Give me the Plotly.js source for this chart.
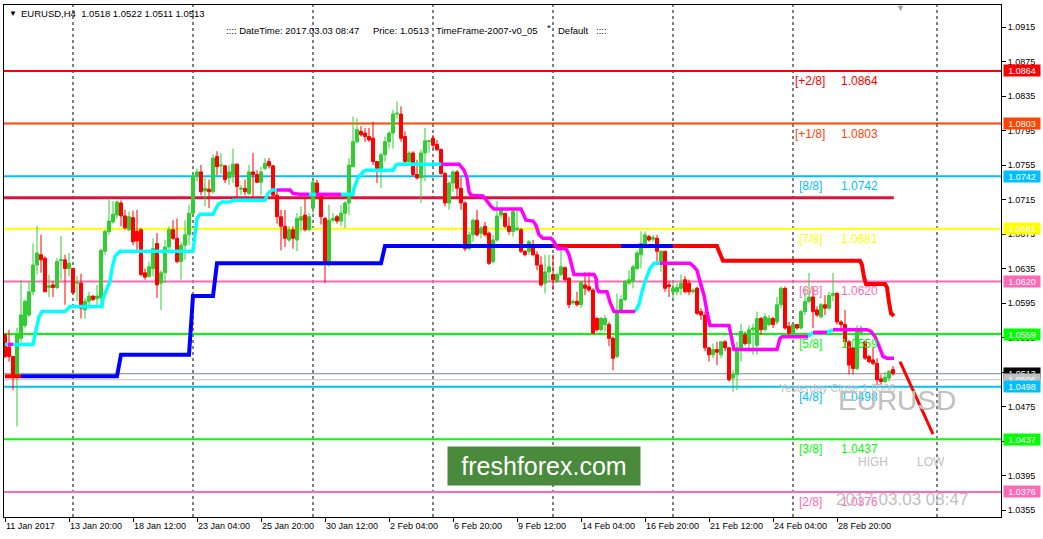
<!DOCTYPE html>
<html><head><meta charset="utf-8">
<script src="https://cdn.plot.ly/plotly-3.0.1.min.js"></script>
<style>html,body{margin:0;padding:0;background:#fff;}#chart{width:1043px;height:539px;}</style>
</head><body><div id="chart"></div>
<script>
// ---------- DATA ----------
const symbolName = 'EURUSD';
const timeframeName = 'H4';
const barOpen = [
1.0558,1.0544,1.0533,1.0509,1.0554,1.0569,1.0581,1.0608,1.0639,1.0651,
1.0647,1.0613,1.0616,1.0613,1.0644,1.0645,1.0635,1.0635,1.0618,1.0618,
1.0587,1.0597,1.0603,1.0600,1.0601,1.0655,1.0678,1.0689,1.0697,1.0711,
1.0696,1.0680,1.0694,1.0678,1.0680,1.0630,1.0626,1.0635,1.0664,1.0618,
1.0630,1.0660,1.0680,1.0670,1.0643,1.0662,1.0674,1.0699,1.0742,1.0747,
1.0725,1.0727,1.0724,1.0765,1.0754,1.0754,1.0740,1.0744,1.0756,1.0727,
1.0728,1.0722,1.0747,1.0744,1.0735,1.0751,1.0759,1.0754,1.0720,1.0695,
1.0684,1.0668,1.0680,1.0668,1.0691,1.0697,1.0680,1.0705,1.0734,1.0720,
1.0693,1.0643,1.0691,1.0695,1.0690,1.0699,1.0711,1.0753,1.0782,1.0794,
1.0792,1.0788,1.0786,1.0759,1.0751,1.0767,1.0782,1.0792,1.0814,1.0814,
1.0788,1.0759,1.0769,1.0744,1.0740,1.0769,1.0782,1.0786,1.0779,1.0773,
1.0745,1.0711,1.0734,1.0747,1.0728,1.0711,1.0658,1.0674,1.0691,1.0676,
1.0684,1.0676,1.0643,1.0668,1.0697,1.0699,1.0684,1.0678,1.0680,1.0680,
1.0655,1.0655,1.0660,1.0651,1.0639,1.0618,1.0631,1.0628,1.0620,1.0628,
1.0636,1.0624,1.0595,1.0597,1.0593,1.0616,1.0614,1.0610,1.0577,1.0564,
1.0570,1.0570,1.0554,1.0533,1.0587,1.0599,1.0618,1.0620,1.0635,1.0651,
1.0662,1.0672,1.0669,1.0670,1.0643,1.0655,1.0616,1.0608,1.0608,1.0612,
1.0622,1.0618,1.0608,1.0612,1.0585,1.0581,1.0543,1.0535,1.0541,1.0535,
1.0550,1.0543,1.0508,1.0512,1.0543,1.0558,1.0548,1.0564,1.0546,1.0577,
1.0564,1.0570,1.0577,1.0573,1.0593,1.0612,1.0568,1.0560,1.0570,1.0566,
1.0585,1.0597,1.0602,1.0587,1.0579,1.0593,1.0589,1.0604,1.0606,1.0573,
1.0570,1.0550,1.0543,1.0519,1.0561,1.0550,1.0533,1.0529,1.0525,1.0507,
1.0504,1.0508,1.0518];
const barHigh = [
1.0560,1.0564,1.0534,1.0566,1.0622,1.0599,1.0620,1.0664,1.0684,1.0674,
1.0649,1.0628,1.0620,1.0647,1.0673,1.0651,1.0653,1.0636,1.0626,1.0629,
1.0601,1.0608,1.0604,1.0616,1.0658,1.0680,1.0716,1.0713,1.0714,1.0714,
1.0703,1.0701,1.0702,1.0703,1.0682,1.0635,1.0643,1.0670,1.0676,1.0633,
1.0668,1.0684,1.0691,1.0693,1.0666,1.0691,1.0709,1.0747,1.0751,1.0755,
1.0740,1.0738,1.0767,1.0771,1.0769,1.0755,1.0755,1.0774,1.0757,1.0732,
1.0738,1.0755,1.0769,1.0749,1.0753,1.0763,1.0763,1.0755,1.0726,1.0703,
1.0703,1.0684,1.0684,1.0699,1.0707,1.0716,1.0699,1.0740,1.0738,1.0722,
1.0695,1.0709,1.0699,1.0697,1.0709,1.0713,1.0763,1.0811,1.0809,1.0800,
1.0798,1.0798,1.0805,1.0759,1.0769,1.0788,1.0794,1.0819,1.0829,1.0823,
1.0794,1.0771,1.0771,1.0761,1.0773,1.0798,1.0784,1.0790,1.0784,1.0774,
1.0747,1.0736,1.0749,1.0749,1.0741,1.0713,1.0678,1.0693,1.0703,1.0684,
1.0689,1.0678,1.0674,1.0713,1.0703,1.0699,1.0695,1.0703,1.0703,1.0682,
1.0656,1.0668,1.0668,1.0655,1.0649,1.0651,1.0651,1.0651,1.0630,1.0658,
1.0637,1.0624,1.0599,1.0608,1.0620,1.0631,1.0631,1.0612,1.0579,1.0579,
1.0581,1.0573,1.0556,1.0606,1.0604,1.0622,1.0633,1.0639,1.0656,1.0678,
1.0678,1.0674,1.0674,1.0674,1.0656,1.0655,1.0620,1.0620,1.0618,1.0628,
1.0626,1.0622,1.0612,1.0614,1.0589,1.0585,1.0544,1.0548,1.0550,1.0550,
1.0552,1.0544,1.0517,1.0550,1.0571,1.0562,1.0569,1.0571,1.0585,1.0579,
1.0583,1.0581,1.0579,1.0602,1.0614,1.0614,1.0573,1.0571,1.0571,1.0587,
1.0612,1.0630,1.0614,1.0591,1.0595,1.0604,1.0608,1.0630,1.0608,1.0575,
1.0587,1.0552,1.0544,1.0569,1.0569,1.0552,1.0535,1.0543,1.0531,1.0512,
1.0515,1.0517,1.0522];
const barLow = [
1.0531,1.0527,1.0494,1.0452,1.0550,1.0566,1.0579,1.0604,1.0628,1.0630,
1.0608,1.0602,1.0602,1.0611,1.0622,1.0593,1.0626,1.0606,1.0597,1.0577,
1.0577,1.0589,1.0597,1.0589,1.0593,1.0651,1.0674,1.0687,1.0693,1.0684,
1.0680,1.0678,1.0662,1.0656,1.0626,1.0622,1.0624,1.0626,1.0601,1.0587,
1.0618,1.0655,1.0668,1.0641,1.0622,1.0645,1.0662,1.0697,1.0736,1.0720,
1.0707,1.0705,1.0722,1.0743,1.0745,1.0734,1.0732,1.0734,1.0718,1.0720,
1.0720,1.0720,1.0718,1.0734,1.0720,1.0749,1.0751,1.0716,1.0687,1.0656,
1.0660,1.0666,1.0658,1.0655,1.0678,1.0678,1.0678,1.0699,1.0716,1.0686,
1.0618,1.0637,1.0689,1.0687,1.0684,1.0682,1.0697,1.0753,1.0780,1.0788,
1.0782,1.0782,1.0755,1.0734,1.0728,1.0759,1.0774,1.0774,1.0809,1.0782,
1.0757,1.0755,1.0742,1.0738,1.0711,1.0736,1.0769,1.0774,1.0771,1.0744,
1.0707,1.0703,1.0724,1.0716,1.0703,1.0655,1.0656,1.0666,1.0672,1.0670,
1.0672,1.0639,1.0641,1.0666,1.0693,1.0682,1.0674,1.0672,1.0678,1.0653,
1.0649,1.0651,1.0649,1.0633,1.0614,1.0606,1.0620,1.0610,1.0618,1.0626,
1.0620,1.0589,1.0593,1.0591,1.0589,1.0604,1.0608,1.0560,1.0562,1.0562,
1.0562,1.0545,1.0517,1.0531,1.0585,1.0597,1.0616,1.0612,1.0633,1.0635,
1.0658,1.0666,1.0666,1.0643,1.0631,1.0608,1.0602,1.0600,1.0604,1.0604,
1.0606,1.0604,1.0606,1.0581,1.0575,1.0539,1.0527,1.0531,1.0523,1.0531,
1.0539,1.0504,1.0492,1.0494,1.0527,1.0546,1.0539,1.0535,1.0535,1.0558,
1.0562,1.0568,1.0566,1.0570,1.0589,1.0564,1.0558,1.0558,1.0564,1.0564,
1.0581,1.0595,1.0566,1.0579,1.0577,1.0581,1.0587,1.0597,1.0570,1.0566,
1.0543,1.0512,1.0512,1.0517,1.0558,1.0529,1.0525,1.0523,1.0500,1.0500,
1.0502,1.0504,1.0511];
const barClose = [
1.0533,1.0533,1.0509,1.0558,1.0581,1.0597,1.0608,1.0639,1.0653,1.0645,
1.0608,1.0615,1.0613,1.0643,1.0645,1.0635,1.0641,1.0607,1.0619,1.0589,
1.0597,1.0603,1.0599,1.0603,1.0656,1.0678,1.0690,1.0698,1.0712,1.0696,
1.0682,1.0695,1.0666,1.0667,1.0628,1.0625,1.0637,1.0658,1.0616,1.0630,
1.0660,1.0680,1.0670,1.0643,1.0662,1.0674,1.0699,1.0742,1.0747,1.0724,
1.0728,1.0724,1.0763,1.0753,1.0755,1.0738,1.0747,1.0756,1.0730,1.0728,
1.0724,1.0747,1.0744,1.0735,1.0747,1.0757,1.0754,1.0720,1.0695,1.0684,
1.0670,1.0680,1.0670,1.0693,1.0695,1.0680,1.0695,1.0735,1.0720,1.0695,
1.0643,1.0691,1.0693,1.0690,1.0699,1.0711,1.0755,1.0782,1.0796,1.0790,
1.0788,1.0784,1.0759,1.0751,1.0767,1.0782,1.0792,1.0814,1.0815,1.0786,
1.0759,1.0769,1.0744,1.0740,1.0769,1.0783,1.0783,1.0778,1.0773,1.0745,
1.0711,1.0734,1.0747,1.0728,1.0711,1.0658,1.0674,1.0691,1.0674,1.0682,
1.0674,1.0641,1.0668,1.0696,1.0702,1.0684,1.0678,1.0701,1.0682,1.0655,
1.0651,1.0666,1.0651,1.0639,1.0616,1.0631,1.0637,1.0622,1.0628,1.0637,
1.0622,1.0593,1.0597,1.0593,1.0620,1.0612,1.0610,1.0560,1.0564,1.0577,
1.0577,1.0554,1.0531,1.0585,1.0599,1.0620,1.0622,1.0637,1.0653,1.0664,
1.0674,1.0668,1.0671,1.0655,1.0655,1.0612,1.0614,1.0612,1.0613,1.0618,
1.0608,1.0608,1.0610,1.0583,1.0581,1.0543,1.0535,1.0541,1.0538,1.0550,
1.0543,1.0506,1.0512,1.0543,1.0562,1.0548,1.0564,1.0566,1.0577,1.0564,
1.0579,1.0577,1.0570,1.0593,1.0612,1.0566,1.0560,1.0570,1.0566,1.0585,
1.0597,1.0602,1.0585,1.0581,1.0593,1.0589,1.0604,1.0606,1.0573,1.0570,
1.0550,1.0523,1.0519,1.0562,1.0566,1.0531,1.0527,1.0525,1.0506,1.0504,
1.0509,1.0516,1.0513];

// bar-index positions of the time labels and their texts
const timeTickIdx = [0,16,32,48,64,80,96,112,128,144,160,176,192,208];
const timeTickText = ['11 Jan 2017','13 Jan 20:00','18 Jan 12:00','23 Jan 04:00','25 Jan 20:00','30 Jan 12:00',
  '2 Feb 04:00','6 Feb 20:00','9 Feb 12:00','14 Feb 04:00','16 Feb 20:00','21 Feb 12:00','24 Feb 04:00','28 Feb 20:00'];
// period separators (bar index)
const separatorIdx = [17,47,77,107,137,167,197,233];

// Murrey Math levels
const mmNames  = ['[+2/8]','[+1/8]','[8/8]','[7/8]','[6/8]','[5/8]','[4/8]','[3/8]','[2/8]'];
const mmLevels = [1.0864,1.0803,1.0742,1.0681,1.0620,1.0559,1.0498,1.0437,1.0376];
const mmColors = ['#ff0000','#ff4500','#00bfff','#ffff00','#ff69b4','#00ff00','#00bfff','#00ff00','#ff69b4'];

const bidPrice = 1.0513;
const yesterdayClose = 1.0506;
const crimsonLevel = 1.0717;
const crimsonEndIdx = 222.2;

// stop line (blue = up, red = down)
const stopX  = [0,4,28,29,46,47,52,53,94,95,137,154,167,178,178.5,179,179.5,213.75,214.25,214.75,215.25,220,220.5,221,221.5,222.25];
const stopY  = [1.0510,1.0510,1.0510,1.0535,1.0535,1.0603,1.0603,1.0641,1.0641,1.0661,1.0661,1.0661,1.0661,1.0661,1.0655,1.0648,1.0644,1.0644,1.0639,1.0625,1.0617,1.0617,1.0613,1.0596,1.0583,1.0580];
const stopUp = [0,1,1,1,1,1,1,1,1,1,0,1,0,0,0,0,0,0,0,0,0,0,0,0,0,0];

// trend line (cyan = up, magenta = down)
const trendX = [0,0.75,2,7,7.5,8,8.5,9.25,15,16.25,
24.25,24.5,25.5,26.25,26.75,27.5,28.75,47,47.5,48,
48.75,52,53.25,54.25,56.25,57,65,65.75,66.75,68,
71.25,72,73.75,76,77.75,84,87,87.25,88.25,89.5,
90.25,97,97.75,98.25,109,113.5,114.75,115.5,116,116.5,
119.5,120.25,121.5,122.25,129,129.5,130.25,132,132.75,133.5,
134.5,136.5,137.25,138.25,140.25,141,141.75,142.25,147.25,147.75,
148,148.5,150.5,151.25,152.25,157.5,158.5,159.25,160,161.25,
162.25,163.75,171.25,172.25,173,173.75,174.25,174.75,175.5,176.25,
181,181.75,182.25,193,193.75,194.25,200.75,202,205.5,207,
215.5,216.5,217.5,218.5,219.5,220.5,222.25];
const trendY = [1.0547,1.0547,1.0547,1.0547,1.0558,1.0569,1.0579,1.0585,1.0585,1.0591,
1.0591,1.0600,1.0612,1.0620,1.0635,1.0649,1.0655,1.0655,1.0674,1.0693,
1.0698,1.0698,1.0709,1.0712,1.0712,1.0714,1.0714,1.0722,1.0726,1.0726,
1.0726,1.0722,1.0721,1.0721,1.0721,1.0721,1.0721,1.0728,1.0740,1.0747,
1.0749,1.0749,1.0755,1.0756,1.0756,1.0756,1.0749,1.0740,1.0724,1.0720,
1.0719,1.0714,1.0707,1.0704,1.0704,1.0699,1.0691,1.0690,1.0685,1.0674,
1.0670,1.0670,1.0666,1.0658,1.0658,1.0651,1.0635,1.0628,1.0628,1.0624,
1.0612,1.0608,1.0608,1.0596,1.0585,1.0585,1.0593,1.0608,1.0620,1.0635,
1.0641,1.0641,1.0641,1.0637,1.0633,1.0620,1.0612,1.0604,1.0585,1.0569,
1.0569,1.0554,1.0541,1.0541,1.0554,1.0556,1.0556,1.0561,1.0561,1.0564,
1.0564,1.0562,1.0556,1.0545,1.0533,1.0531,1.0531];
const trendUp = [1,0,1,
1,1,1,1,1,1,1,1,1,1,1,1,1,1,1,1,1,1,1,1,1,1,1,1,1,1,
0,0,0,0,
1,0,
1,1,1,1,1,1,1,1,1,
0,0,0,0,0,0,0,0,0,0,0,0,0,0,0,0,0,0,0,0,0,0,0,0,0,0,0,0,0,0,0,
1,1,1,1,1,1,
0,0,0,0,0,0,0,0,0,0,0,0,0,0,0,
1,0,1,
0,0,0,0,0,0,0,0];

// projected line (bar index, price)
const projX = [223.75, 232];
const projY = [1.0527, 1.0443];

// ---------- BUILD ----------
const barIdx = barOpen.map((_, i) => i);
const FONT = "Tahoma, 'Liberation Sans', Arial, sans-serif";

function segTrace(xs, ys, st, want) {
  const X = [], Y = [];
  let last = -2;
  for (let i = 0; i < xs.length - 1; i++) {
    if (st[i] !== want) continue;
    if (last !== i) { if (X.length) { X.push(null); Y.push(null); } X.push(xs[i]); Y.push(ys[i]); }
    X.push(xs[i + 1]); Y.push(ys[i + 1]);
    last = i + 1;
  }
  return {X, Y};
}

const traces = [];
traces.push({
  type: 'candlestick', x: barIdx, open: barOpen, high: barHigh, low: barLow, close: barClose,
  increasing: {line: {color: '#32cd32', width: 1}, fillcolor: '#32cd32'},
  decreasing: {line: {color: '#ff0000', width: 1}, fillcolor: '#ff0000'},
  whiskerwidth: 0, hoverinfo: 'skip', showlegend: false
});
[[1, '#0000ff'], [0, '#ff0000']].forEach(([st, col]) => {
  const s = segTrace(stopX, stopY, stopUp, st);
  traces.push({type: 'scatter', mode: 'lines', x: s.X, y: s.Y, line: {color: col, width: 4}, hoverinfo: 'skip', connectgaps: false});
});
[[1, '#00ffff'], [0, '#ff00ff']].forEach(([st, col]) => {
  const s = segTrace(trendX, trendY, trendUp, st);
  traces.push({type: 'scatter', mode: 'lines', x: s.X, y: s.Y, line: {color: col, width: 3.5}, hoverinfo: 'skip', connectgaps: false});
});
traces.push({type: 'scatter', mode: 'lines', x: projX, y: projY, line: {color: '#ff0000', width: 3}, hoverinfo: 'skip'});

// pixel helpers for text placement (plot area: x 4..1001, y 5..517)
const pX = px => (px - 4) / 997;
const pY = py => (517 - py) / 512;

const shapes = [];
separatorIdx.forEach(k => shapes.push({type: 'line', xref: 'x', yref: 'paper', x0: k, x1: k, y0: 0, y1: 1,
  line: {color: '#000', width: 1, dash: '3px,3px'}, layer: 'below'}));
mmLevels.forEach((lv, i) => shapes.push({type: 'line', xref: 'paper', yref: 'y', x0: 0, x1: 1, y0: lv, y1: lv,
  line: {color: mmColors[i], width: 2}, layer: 'below'}));
shapes.push({type: 'line', xref: 'x', yref: 'y', x0: -0.25, x1: crimsonEndIdx, y0: crimsonLevel, y1: crimsonLevel,
  line: {color: '#dc143c', width: 3}, layer: 'below'});
shapes.push({type: 'line', xref: 'paper', yref: 'y', x0: 0, x1: 1, y0: bidPrice, y1: bidPrice, line: {color: '#778899', width: 1}, layer: 'below'});
shapes.push({type: 'line', xref: 'paper', yref: 'y', x0: 0, x1: 1, y0: yesterdayClose, y1: yesterdayClose, line: {color: '#c0c0c0', width: 1}, layer: 'below'});

const ann = [];
const last = barOpen.length - 1;
function txt(text, px, py, size, color, anchor, extra) {
  ann.push(Object.assign({text, xref: 'paper', yref: 'paper', x: pX(px), y: pY(py), xanchor: anchor || 'left', yanchor: 'middle',
    showarrow: false, font: {family: FONT, size, color}}, extra || {}));
}
// header
txt('▼', 7, 13, 8, '#000');
txt(`${symbolName},${timeframeName}  ${barOpen[last].toFixed(4)} ${barHigh[last].toFixed(4)} ${barLow[last].toFixed(4)} ${barClose[last].toFixed(4)}`, 19, 13, 9.5, '#000');
txt(':::: DateTime: 2017.03.03 08:47', 224, 30, 9.5, '#000');
txt('Price: ' + bidPrice.toFixed(4), 371, 30, 9.5, '#000');
txt('TimeFrame-2007-v0_05', 434, 30, 9.5, '#000');
txt('*', 545, 27, 9.5, '#000');
txt('Default', 556, 30, 9.5, '#000');
txt('::::', 594, 30, 9.5, '#000');
txt('▼', 900, 8, 9, '#a0a0a0', 'center');

// level labels
mmLevels.forEach((lv, i) => {
  ann.push({text: mmNames[i], xref: 'paper', yref: 'y', x: pX(810), y: lv, xanchor: 'center', yanchor: 'top', yshift: -1,
    showarrow: false, font: {family: "'Liberation Sans', Arial, sans-serif", size: 12, color: mmColors[i]}});
  ann.push({text: lv.toFixed(4), xref: 'paper', yref: 'y', x: pX(839), y: lv, xanchor: 'left', yanchor: 'top', yshift: -1,
    showarrow: false, font: {family: "'Liberation Sans', Arial, sans-serif", size: 12, color: mmColors[i]}});
});
txt('Yesterday Close ' + yesterdayClose.toFixed(4), 777, 388, 11, '#c0c0c0');
txt(symbolName, 897, 400, 28, '#c0c0c0', 'center');
txt('HIGH', 856, 462, 12, '#c0c0c0');
txt('LOW', 915, 462, 12, '#c0c0c0');
txt('2017.03.03 08:47', 834, 499, 17, '#c0c0c0');
txt('freshforex.com', 544, 466, 25, '#ffffff', 'center', {bgcolor: '#4a8a3c', width: 184, height: 30, borderpad: 4});

// price boxes on the axis
function priceBox(lv, bg) {
  ann.push({text: lv.toFixed(4), xref: 'paper', yref: 'y', x: 1, y: lv, xanchor: 'left', yanchor: 'middle', xshift: 2,
    showarrow: false, bgcolor: bg, width: 34, height: 9, borderpad: 1, font: {family: FONT, size: 9, color: '#ffffff'}});
}
mmLevels.forEach((lv, i) => { if (i < 6) priceBox(lv, mmColors[i]); });
priceBox(bidPrice, '#000000');
priceBox(yesterdayClose, '#c0c0c0');
mmLevels.forEach((lv, i) => { if (i >= 6) priceBox(lv, mmColors[i]); });

const layout = {
  width: 1043, height: 539,
  margin: {l: 4, r: 42, t: 5, b: 22, pad: 0},
  paper_bgcolor: '#ffffff', plot_bgcolor: '#ffffff',
  showlegend: false,
  boxgap: 0.15, boxgroupgap: 0.1,
  xaxis: {
    range: [-0.25, 249], showgrid: false, zeroline: false, showline: true, mirror: true,
    linecolor: '#000', linewidth: 1, ticks: 'outside', ticklen: 4, tickcolor: '#000',
    tickmode: 'array', tickvals: timeTickIdx, ticktext: timeTickText,
    ticklabelposition: 'outside right',
    tickfont: {family: FONT, size: 9, color: '#000'},
    rangeslider: {visible: false}, fixedrange: true
  },
  yaxis: {
    range: [1.034688, 1.094051], side: 'right', showgrid: false, zeroline: false,
    showline: true, mirror: true, linecolor: '#000', linewidth: 1,
    ticks: 'outside', ticklen: 4, tickcolor: '#000',
    tick0: 1.0355, dtick: 0.004, tickformat: '.4f',
    tickfont: {family: FONT, size: 9, color: '#000'}, fixedrange: true
  },
  shapes: shapes,
  annotations: ann
};
Plotly.newPlot('chart', traces, layout, {staticPlot: true, displayModeBar: false});
</script>
</body></html>
